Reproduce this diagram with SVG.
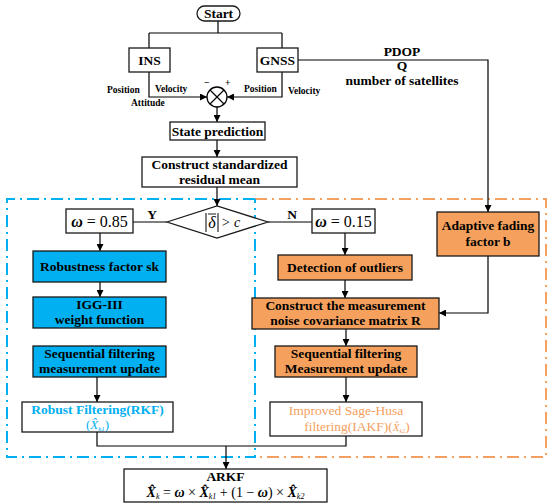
<svg xmlns="http://www.w3.org/2000/svg" width="550" height="504" viewBox="0 0 550 504" font-family="'Liberation Serif', 'DejaVu Serif', serif">
<defs>
<marker id="ah" viewBox="0 0 10 10" refX="10" refY="5" markerWidth="7" markerHeight="7" orient="auto" markerUnits="userSpaceOnUse">
<path d="M0,0 L10,5 L0,10 z" fill="#000"/>
</marker>
<style>
.box{fill:#fff;stroke:#1a1a1a;stroke-width:1.3}
.blue{fill:#00B0F0;stroke:#1a1a1a;stroke-width:1.3}
.orange{fill:#F5A05D;stroke:#1a1a1a;stroke-width:1.3}
.ln{fill:none;stroke:#000;stroke-width:1.2}
.arr{fill:none;stroke:#000;stroke-width:1.2;marker-end:url(#ah)}
text{font-family:'Liberation Serif','DejaVu Serif',serif}
.t{font-size:13.5px;font-weight:bold;text-anchor:middle}
.s{font-size:9.5px;font-weight:bold}
.m{font-size:16px;text-anchor:middle}
</style>
</defs>
<g id="regions">
<path d="M255,199 H546 V457 H255" fill="none" stroke="#F4A060" stroke-width="2" stroke-dasharray="12,5,2,5"/>
<path d="M255,199 H7 V457 H255 V199" fill="none" stroke="#00B0F0" stroke-width="2" stroke-dasharray="12,5,2,5"/>
</g>
<g id="connectors">
<path class="ln" d="M218,21 V33 M149,33 H282 M149,33 V48 M282,33 V48"/>
<path class="arr" d="M149,72 V97 H207"/>
<path class="arr" d="M282,72 V97 H227"/>
<path class="arr" d="M298,60 H488 V212"/>
<path class="arr" d="M217,107 V122"/>
<path class="arr" d="M217,140 V157"/>
<path class="arr" d="M217,187 V206"/>
<path class="ln" d="M167,222 H133"/>
<path class="ln" d="M268,222 H312"/>
<path class="arr" d="M100,233 V251"/>
<path class="arr" d="M100,282 V297"/>
<path class="arr" d="M97,377 V402"/>
<path class="arr" d="M345,233 V255"/>
<path class="arr" d="M345,280 V298"/>
<path class="arr" d="M346,329 V346"/>
<path class="arr" d="M346,377 V402"/>
<path class="arr" d="M488,256 V313 H439"/>
<path class="ln" d="M97,432 V446 H346 V436"/>
<path class="arr" d="M226,446 V469"/>
</g>
<g id="start">
<rect x="197" y="6" width="43" height="15" rx="7.5" class="box"/>
<text x="218.5" y="18" class="t">Start</text>
</g>
<g id="ins">
<rect x="129" y="48" width="41" height="24" class="box"/>
<text x="149.5" y="65" class="t" font-size="15">INS</text>
</g>
<g id="gnss">
<rect x="257" y="48" width="41" height="24" class="box"/>
<text x="277.5" y="65" class="t" font-size="15">GNSS</text>
</g>
<g id="labels">
<text x="107" y="93" class="s">Position</text>
<text x="155" y="92" class="s">Velocity</text>
<text x="131" y="106" class="s">Attitude</text>
<text x="244" y="92" class="s">Position</text>
<text x="288" y="94" class="s">Velocity</text>
<text x="204" y="86" class="s">−</text>
<text x="225" y="86" class="s">+</text>
<text x="402" y="56" class="t" font-size="13">PDOP</text>
<text x="402" y="70" class="t" font-size="13">Q</text>
<text x="402" y="85" class="t" font-size="13">number of satellites</text>
<text x="152" y="219" class="t" font-size="12">Y</text>
<text x="292" y="219" class="t" font-size="12">N</text>
</g>
<g id="sum">
<circle cx="217" cy="97" r="10" fill="#fff" stroke="#000" stroke-width="1.3"/>
<path d="M210,90 L224,104 M224,90 L210,104" stroke="#000" stroke-width="1.2"/>
</g>
<g id="state">
<rect x="170" y="122" width="95" height="18" class="box"/>
<text x="217.5" y="135.5" class="t">State prediction</text>
</g>
<g id="construct">
<rect x="142" y="157" width="155" height="30" class="box"/>
<text x="219.5" y="169" class="t">Construct standardized</text>
<text x="219.5" y="184" class="t">residual mean</text>
</g>
<g id="decision">
<path d="M167,222 L217,206 L268,222 L217,238 Z" class="box"/>
<line x1="206" y1="213" x2="206" y2="232" stroke="#000" stroke-width="1"/>
<line x1="218" y1="213" x2="218" y2="232" stroke="#000" stroke-width="1"/>
<line x1="208" y1="214" x2="216" y2="214" stroke="#000" stroke-width="0.9"/>
<text x="212" y="228" class="m" font-style="italic">δ</text>
<text x="221" y="227" font-size="14" font-style="italic">&gt; c</text>
</g>
<g id="w085">
<rect x="66" y="209" width="67" height="24" class="box"/>
<text x="99.5" y="226.5" class="m"><tspan font-style="italic" font-weight="bold">ω</tspan> = 0.85</text>
</g>
<g id="w015">
<rect x="312" y="209" width="63" height="24" class="box"/>
<text x="343.5" y="226.5" class="m"><tspan font-style="italic" font-weight="bold">ω</tspan> = 0.15</text>
</g>
<g id="robust-factor">
<rect x="33" y="251" width="133" height="31" class="blue"/>
<text x="99.5" y="271" class="t">Robustness factor sk</text>
</g>
<g id="igg">
<rect x="33" y="297" width="133" height="31" class="blue"/>
<text x="99.5" y="309" class="t">IGG-III</text>
<text x="99.5" y="324" class="t">weight function</text>
</g>
<g id="seq-blue">
<rect x="33" y="346" width="133" height="31" class="blue"/>
<text x="99.5" y="358" class="t">Sequential filtering</text>
<text x="99.5" y="373" class="t">measurement update</text>
</g>
<g id="rkf">
<rect x="22" y="402" width="151" height="30" class="box"/>
<text x="97.5" y="414" class="t" fill="#00B0F0">Robust Filtering(RKF)</text>
<text x="97.5" y="429" font-size="13" text-anchor="middle" fill="#00B0F0">(<tspan font-style="italic">X̂</tspan><tspan font-size="7" font-style="italic" dy="2">k1</tspan><tspan dy="-2">)</tspan></text>
</g>
<g id="adaptive">
<rect x="437" y="212" width="102" height="44" class="orange"/>
<text x="488" y="230" class="t">Adaptive fading</text>
<text x="488" y="246" class="t">factor b</text>
</g>
<g id="outliers">
<rect x="278" y="255" width="134" height="25" class="orange"/>
<text x="345" y="272" class="t">Detection of outliers</text>
</g>
<g id="noise">
<rect x="252" y="298" width="187" height="31" class="orange"/>
<text x="345.5" y="310" class="t">Construct the measurement</text>
<text x="345.5" y="325" class="t">noise covariance matrix R</text>
</g>
<g id="seq-orange">
<rect x="275" y="346" width="142" height="31" class="orange"/>
<text x="346" y="358" class="t">Sequential filtering</text>
<text x="346" y="373" class="t">Measurement update</text>
</g>
<g id="iakf">
<rect x="270" y="402" width="152" height="34" class="box"/>
<text x="346" y="415" font-size="13.5" text-anchor="middle" fill="#F4A060">Improved Sage-Husa</text>
<text x="357" y="431" font-size="13.5" text-anchor="middle" fill="#F4A060">filtering(IAKF)(<tspan font-style="italic" font-size="11">X̂</tspan><tspan font-size="6" font-style="italic" dy="2">k2</tspan><tspan dy="-2">)</tspan></text>
</g>
<g id="arkf">
<rect x="124" y="469" width="203" height="33" class="box"/>
<text x="225.5" y="481" class="t">ARKF</text>
<text x="225.5" y="497" font-size="14" text-anchor="middle"><tspan font-style="italic" font-weight="bold">X̂</tspan><tspan font-size="8" font-style="italic" dy="2">k</tspan><tspan dy="-2"> = </tspan><tspan font-style="italic" font-weight="bold">ω</tspan> × <tspan font-style="italic" font-weight="bold">X̂</tspan><tspan font-size="8" font-style="italic" dy="2">k1</tspan><tspan dy="-2"> + (1 − </tspan><tspan font-style="italic" font-weight="bold">ω</tspan>) × <tspan font-style="italic" font-weight="bold">X̂</tspan><tspan font-size="8" font-style="italic" dy="2">k2</tspan></text>
</g>
</svg>
